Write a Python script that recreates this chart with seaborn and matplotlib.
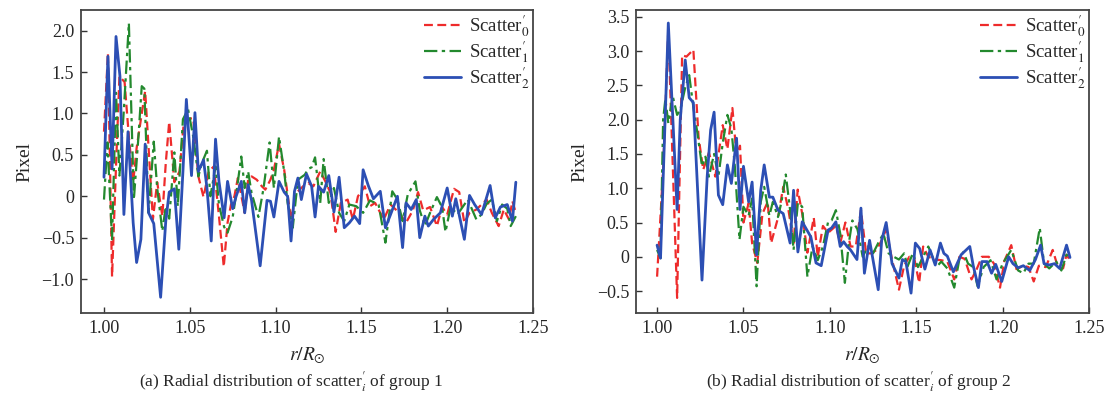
import numpy as np
import pandas as pd
import matplotlib
matplotlib.use("Agg")
import matplotlib.pyplot as plt
from matplotlib.ticker import FuncFormatter
import seaborn as sns

# ----------------------------------------------
# Data (r/R_sun, pixel)
# ----------------------------------------------
# (a) group 1
r_a_red = [1.000, 1.0023, 1.0047, 1.007, 1.009, 1.012, 1.0145, 1.017, 1.019, 1.0215,
           1.024, 1.026, 1.0285, 1.031, 1.034, 1.036, 1.038, 1.041, 1.044, 1.0465,
           1.0506, 1.052, 1.055, 1.058, 1.061, 1.064, 1.067, 1.0698, 1.072, 1.074,
           1.076, 1.078, 1.082, 1.084, 1.086, 1.089, 1.092, 1.094, 1.097, 1.099,
           1.102, 1.105, 1.109, 1.112, 1.116, 1.119, 1.122, 1.126, 1.129, 1.132,
           1.135, 1.138, 1.142, 1.145, 1.148, 1.152, 1.155, 1.158, 1.163, 1.167,
           1.172, 1.176, 1.180, 1.183, 1.186, 1.190, 1.194, 1.197, 1.200, 1.204,
           1.207, 1.210, 1.213, 1.217, 1.219, 1.223, 1.226, 1.230, 1.233, 1.236, 1.238, 1.240]
a_red = [0.78, 1.73, -0.97, 0.36, 1.45, 1.38, 0.72, 0.17, 0.58, 0.93,
         1.27, 0.58, -0.28, 0.17, -0.24, 0.40, 0.90, 0.17, 0.30, 0.89,
         0.94, 0.94, 0.24, -0.01, 0.30, 0.36, -0.24, -0.85, -0.32, -0.10,
         0.00, 0.22, -0.20, 0.20, 0.24, 0.20, 0.12, 0.08, 0.20, 0.32,
         0.63, 0.32, -0.28, 0.04, 0.12, 0.16, 0.12, 0.30, 0.18, 0.04,
         -0.43, -0.08, -0.04, -0.28, 0.00, 0.12, -0.12, -0.08, -0.28, -0.10,
         -0.20, -0.32, -0.17, 0.05, -0.17, -0.13, -0.36, -0.13, -0.22, 0.09,
         0.05, -0.32, -0.20, -0.16, -0.12, -0.04, -0.20, -0.36, -0.16, -0.28, -0.06, -0.20]

r_a_green = [1.000, 1.002, 1.0047, 1.007, 1.009, 1.0116, 1.0145, 1.0174, 1.020, 1.022,
             1.0235, 1.026, 1.029, 1.031, 1.034, 1.036, 1.038, 1.041, 1.043, 1.046,
             1.049, 1.052, 1.055, 1.057, 1.060, 1.062, 1.065, 1.067, 1.070, 1.072,
             1.075, 1.077, 1.080, 1.082, 1.084, 1.086, 1.090, 1.093, 1.0965, 1.099,
             1.102, 1.105, 1.107, 1.110, 1.113, 1.117, 1.119, 1.121, 1.123, 1.126,
             1.128, 1.131, 1.134, 1.137, 1.140, 1.143, 1.147, 1.151, 1.155, 1.160,
             1.164, 1.168, 1.171, 1.174, 1.177, 1.1815, 1.184, 1.187, 1.190, 1.194,
             1.197, 1.199, 1.202, 1.206, 1.209, 1.212, 1.217, 1.220, 1.223, 1.226,
             1.229, 1.232, 1.235, 1.237, 1.240]
a_green = [-0.04, 0.65, -0.52, 1.25, 0.25, 1.05, 2.09, -0.04, 0.70, 1.33,
           1.30, -0.20, 0.66, 0.10, -0.42, -0.12, -0.27, 0.53, -0.12, 0.93,
           1.05, 0.72, 0.24, 0.40, 0.55, 0.00, 0.36, -0.10, -0.37, -0.44,
           -0.25, 0.02, 0.48, 0.10, 0.30, 0.04, -0.25, 0.10, 0.65, 0.10,
           0.72, 0.30, -0.08, -0.38, 0.20, 0.26, 0.33, 0.35, 0.47, -0.08,
           0.45, -0.08, 0.10, -0.20, -0.30, -0.10, -0.12, -0.20, -0.05, -0.10,
           -0.56, 0.06, -0.04, -0.30, 0.02, 0.18, -0.17, -0.36, -0.20, -0.01,
           -0.13, -0.43, -0.13, -0.22, -0.13, -0.04, -0.28, -0.22, -0.09, -0.04,
           -0.30, -0.10, -0.15, -0.36, -0.24]

r_a_blue = [1.000, 1.0023, 1.0047, 1.007, 1.0093, 1.0116, 1.014, 1.017, 1.019, 1.0215,
            1.024, 1.026, 1.029, 1.033, 1.036, 1.038, 1.041, 1.0436, 1.046, 1.048,
            1.051, 1.053, 1.055, 1.058, 1.060, 1.0625, 1.065, 1.067, 1.070, 1.072,
            1.075, 1.077, 1.080, 1.082, 1.084, 1.086, 1.091, 1.095, 1.097, 1.099,
            1.102, 1.105, 1.107, 1.109, 1.111, 1.113, 1.115, 1.118, 1.121, 1.123,
            1.125, 1.128, 1.131, 1.134, 1.137, 1.140, 1.143, 1.146, 1.149, 1.151,
            1.154, 1.157, 1.161, 1.164, 1.167, 1.171, 1.174, 1.176, 1.179, 1.182,
            1.184, 1.187, 1.189, 1.192, 1.196, 1.200, 1.203, 1.205, 1.210, 1.213,
            1.216, 1.220, 1.225, 1.228, 1.231, 1.235, 1.238, 1.240]
a_blue = [0.23, 1.69, 0.33, 1.93, 1.45, -0.22, 0.78, -0.32, -0.80, -0.52,
          0.63, -0.20, -0.33, -1.22, -0.30, 0.05, 0.09, -0.64, 0.30, 1.17,
          0.25, 1.01, 0.30, 0.44, 0.10, -0.54, 0.69, 0.18, -0.26, 0.18,
          -0.15, 0.00, 0.18, -0.20, 0.14, -0.05, -0.84, -0.05, -0.06, -0.25,
          0.18, 0.05, 0.00, -0.54, 0.06, 0.22, -0.04, 0.27, 0.12, -0.25,
          0.12, 0.05, 0.25, -0.19, 0.23, -0.38, -0.32, -0.24, -0.33, 0.32,
          0.13, -0.03, 0.06, -0.38, -0.22, 0.00, -0.62, -0.08, -0.16, -0.04,
          -0.50, -0.24, -0.36, -0.28, -0.20, 0.10, -0.24, -0.03, -0.52, 0.01,
          -0.10, -0.22, 0.13, -0.26, -0.13, -0.10, -0.30, 0.17]

# (b) group 2
r_b_red = [1.000, 1.0035, 1.0065, 1.0116, 1.0145, 1.017, 1.021, 1.024, 1.0267, 1.030,
           1.0337, 1.038, 1.0407, 1.0436, 1.046, 1.048, 1.050, 1.053, 1.055, 1.058,
           1.061, 1.064, 1.066, 1.070, 1.073, 1.076, 1.079, 1.0814, 1.084, 1.087,
           1.0907, 1.093, 1.096, 1.099, 1.1035, 1.106, 1.109, 1.112, 1.115, 1.118,
           1.121, 1.124, 1.127, 1.130, 1.1326, 1.136, 1.140, 1.143, 1.146, 1.149,
           1.1517, 1.154, 1.157, 1.161, 1.1645, 1.168, 1.172, 1.175, 1.178, 1.182,
           1.185, 1.188, 1.192, 1.195, 1.1985, 1.201, 1.205, 1.208, 1.212, 1.215,
           1.218, 1.221, 1.225, 1.229, 1.232, 1.235, 1.237, 1.239]
b_red = [-0.29, 1.27, 3.31, -0.60, 2.94, 2.92, 3.02, 1.75, 1.27, 1.52,
         1.17, 1.92, 1.57, 2.17, 1.48, 1.62, 0.50, 0.78, 0.20, -0.09,
         0.63, 0.80, 0.20, 0.57, 1.02, 0.69, 0.20, 0.98, 0.63, 0.06,
         0.57, 0.00, 0.45, 0.35, 0.45, 0.20, 0.50, 0.15, 0.15, 0.68,
         0.05, 0.05, 0.10, 0.24, 0.40, -0.04, -0.48, -0.13, 0.00, -0.04,
         -0.38, 0.15, 0.00, -0.04, -0.05, -0.07, -0.33, 0.00, -0.03, -0.33,
         -0.18, 0.00, 0.00, -0.10, -0.45, -0.06, 0.17, -0.18, -0.13, -0.15,
         -0.36, -0.13, -0.15, 0.10, -0.15, -0.17, 0.03, -0.05]

r_b_green = [1.000, 1.002, 1.0035, 1.0048, 1.0065, 1.009, 1.0116, 1.0134, 1.0163, 1.0186,
             1.021, 1.0233, 1.026, 1.028, 1.030, 1.033, 1.0355, 1.038, 1.0407, 1.043,
             1.045, 1.0477, 1.050, 1.053, 1.055, 1.0576, 1.060, 1.062, 1.065, 1.067,
             1.070, 1.072, 1.0745, 1.077, 1.079, 1.0815, 1.084, 1.087, 1.090, 1.093,
             1.096, 1.099, 1.101, 1.1035, 1.106, 1.1087, 1.111, 1.113, 1.116, 1.119,
             1.122, 1.125, 1.128, 1.131, 1.134, 1.137, 1.140, 1.143, 1.145, 1.148,
             1.151, 1.154, 1.157, 1.160, 1.162, 1.1645, 1.168, 1.172, 1.175, 1.1773,
             1.180, 1.183, 1.1855, 1.189, 1.193, 1.1965, 1.200, 1.205, 1.209, 1.212,
             1.215, 1.218, 1.2215, 1.224, 1.227, 1.231, 1.234, 1.237, 1.239]
b_green = [0.10, -0.02, 2.00, 2.30, 1.95, 2.35, 2.07, 2.14, 2.47, 2.65,
           2.18, 1.81, 1.32, 1.46, 1.17, 1.50, 1.17, 1.66, 2.07, 1.87,
           1.32, 0.25, 0.73, 0.60, 0.85, -0.43, 0.80, 1.02, 0.60, 0.80,
           0.58, 0.80, 1.20, 0.68, 0.10, 0.79, 0.73, -0.29, 0.15, -0.05,
           0.15, 0.51, 0.53, 0.68, 0.34, -0.38, 0.20, 0.53, 0.40, 0.00,
           0.15, 0.05, 0.20, 0.34, 0.05, 0.00, -0.04, 0.05, -0.14, 0.05,
           -0.15, 0.00, 0.15, -0.04, -0.14, -0.07, -0.17, -0.45, -0.03, 0.07,
           -0.10, -0.15, -0.43, -0.15, -0.05, -0.33, -0.10, 0.10, -0.20, -0.24,
           -0.10, -0.10, 0.42, -0.10, -0.17, -0.07, -0.20, 0.03, -0.01]

r_b_blue = [1.000, 1.002, 1.0065, 1.0116, 1.0134, 1.0163, 1.0186, 1.021, 1.026, 1.029,
            1.031, 1.033, 1.0355, 1.038, 1.0407, 1.043, 1.046, 1.048, 1.050, 1.053,
            1.055, 1.0576, 1.060, 1.062, 1.065, 1.067, 1.070, 1.073, 1.077, 1.079,
            1.0815, 1.084, 1.089, 1.092, 1.095, 1.099, 1.101, 1.1035, 1.106, 1.108,
            1.110, 1.112, 1.1157, 1.118, 1.120, 1.123, 1.128, 1.130, 1.1326, 1.136,
            1.140, 1.142, 1.144, 1.147, 1.1495, 1.152, 1.155, 1.158, 1.161, 1.164,
            1.166, 1.168, 1.1715, 1.176, 1.181, 1.183, 1.186, 1.188, 1.191, 1.1936,
            1.196, 1.1995, 1.2035, 1.206, 1.209, 1.212, 1.2157, 1.219, 1.222, 1.224,
            1.227, 1.230, 1.233, 1.237, 1.239]
b_blue = [0.17, -0.02, 3.41, 0.69, 2.00, 2.87, 2.32, 2.25, -0.34, 1.17,
          1.85, 2.11, 0.90, 0.76, 1.34, 1.07, 1.73, 0.69, 1.32, 0.80,
          1.09, 0.03, 0.97, 1.34, 0.87, 0.87, 0.68, 0.63, 0.20, 0.97,
          0.07, 0.51, 0.29, -0.09, -0.13, 0.39, 0.42, 0.51, 0.15, 0.22,
          0.15, 0.10, -0.04, 0.71, -0.24, 0.24, -0.48, 0.24, 0.50, -0.10,
          -0.31, -0.04, -0.07, -0.53, 0.20, 0.12, -0.18, 0.10, -0.12, 0.20,
          0.05, 0.01, -0.22, 0.03, 0.15, -0.13, -0.45, -0.07, -0.07, -0.24,
          -0.11, -0.36, 0.00, -0.10, -0.16, -0.13, -0.20, -0.04, 0.17, -0.10,
          -0.12, -0.10, -0.17, 0.17, -0.01]

labels = [r"Scatter$^{\prime}_{0}$", r"Scatter$^{\prime}_{1}$", r"Scatter$^{\prime}_{2}$"]
captions = [r"(a) Radial distribution of scatter$^{\prime}_{i}$ of group 1",
            r"(b) Radial distribution of scatter$^{\prime}_{i}$ of group 2"]
x_ticks = [1.00, 1.05, 1.10, 1.15, 1.20, 1.25]

# ----------------------------------------------
# Style
# ----------------------------------------------
sns.set_style("ticks")
plt.rcParams['font.family'] = ['Liberation Serif', 'DejaVu Serif']
plt.rcParams['mathtext.fontset'] = 'stix'
plt.rcParams['xtick.direction'] = 'in'
plt.rcParams['ytick.direction'] = 'in'

colors = ['#ee2b2b', '#23892e', '#2c4fb4']
styles = [(0, (4, 2)), (0, (6, 2, 1.5, 2)), '-']
widths = [1.6, 1.6, 2.0]

fig = plt.figure(figsize=(11.15, 4.0), dpi=100)
ax_a = fig.add_axes([81 / 1115, 87 / 400, 452 / 1115, 303 / 400])
ax_b = fig.add_axes([636 / 1115, 87 / 400, 453 / 1115, 303 / 400])

panels = [
    (ax_a, [(r_a_red, a_red), (r_a_green, a_green), (r_a_blue, a_blue)],
     (0.9866, 1.25), (-1.41, 2.25), [-1.0, -0.5, 0, 0.5, 1.0, 1.5, 2.0], 291),
    (ax_b, [(r_b_red, b_red), (r_b_green, b_green), (r_b_blue, b_blue)],
     (0.9878, 1.25), (-0.82, 3.60), [-0.5, 0, 0.5, 1.0, 1.5, 2.0, 2.5, 3.0, 3.5], 859),
]

for i, (ax, series, xlim, ylim, yticks, cap_x) in enumerate(panels):
    for (rr, vv), lab, col, ls, lw in zip(series, labels, colors, styles, widths):
        df = pd.DataFrame({'r': rr, 'pixel': vv})
        sns.lineplot(data=df, x='r', y='pixel', ax=ax, color=col, linestyle=ls,
                     linewidth=lw, label=lab, estimator=None, sort=False)
    ax.set_xlim(*xlim)
    ax.set_ylim(*ylim)
    ax.set_xticks(x_ticks)
    ax.set_yticks(yticks)
    ax.xaxis.set_major_formatter(FuncFormatter(lambda v, p: f"{v:.2f}"))
    ax.yaxis.set_major_formatter(FuncFormatter(lambda v, p: "0" if abs(v) < 1e-9 else f"{v:.1f}".replace('-', '\u2212')))
    ax.tick_params(labelsize=13, length=4, width=1, color='#333333', pad=5)
    for sp in ax.spines.values():
        sp.set_color('#444444')
        sp.set_linewidth(1.3)
    ax.set_xlabel(r"$r/R_{\odot}$", fontsize=14, labelpad=6)
    ax.set_ylabel("Pixel", fontsize=14, labelpad=6)
    leg = ax.legend(loc='upper right', frameon=False, fontsize=13.5, handlelength=2.0,
                    handletextpad=0.4, labelspacing=0.0, borderaxespad=0.0, borderpad=0.2)
    fig.text(cap_x / 1115, 1 - 382 / 400, captions[i], ha='center', va='center', fontsize=12.5)

fig.savefig("out.png", dpi=100)
